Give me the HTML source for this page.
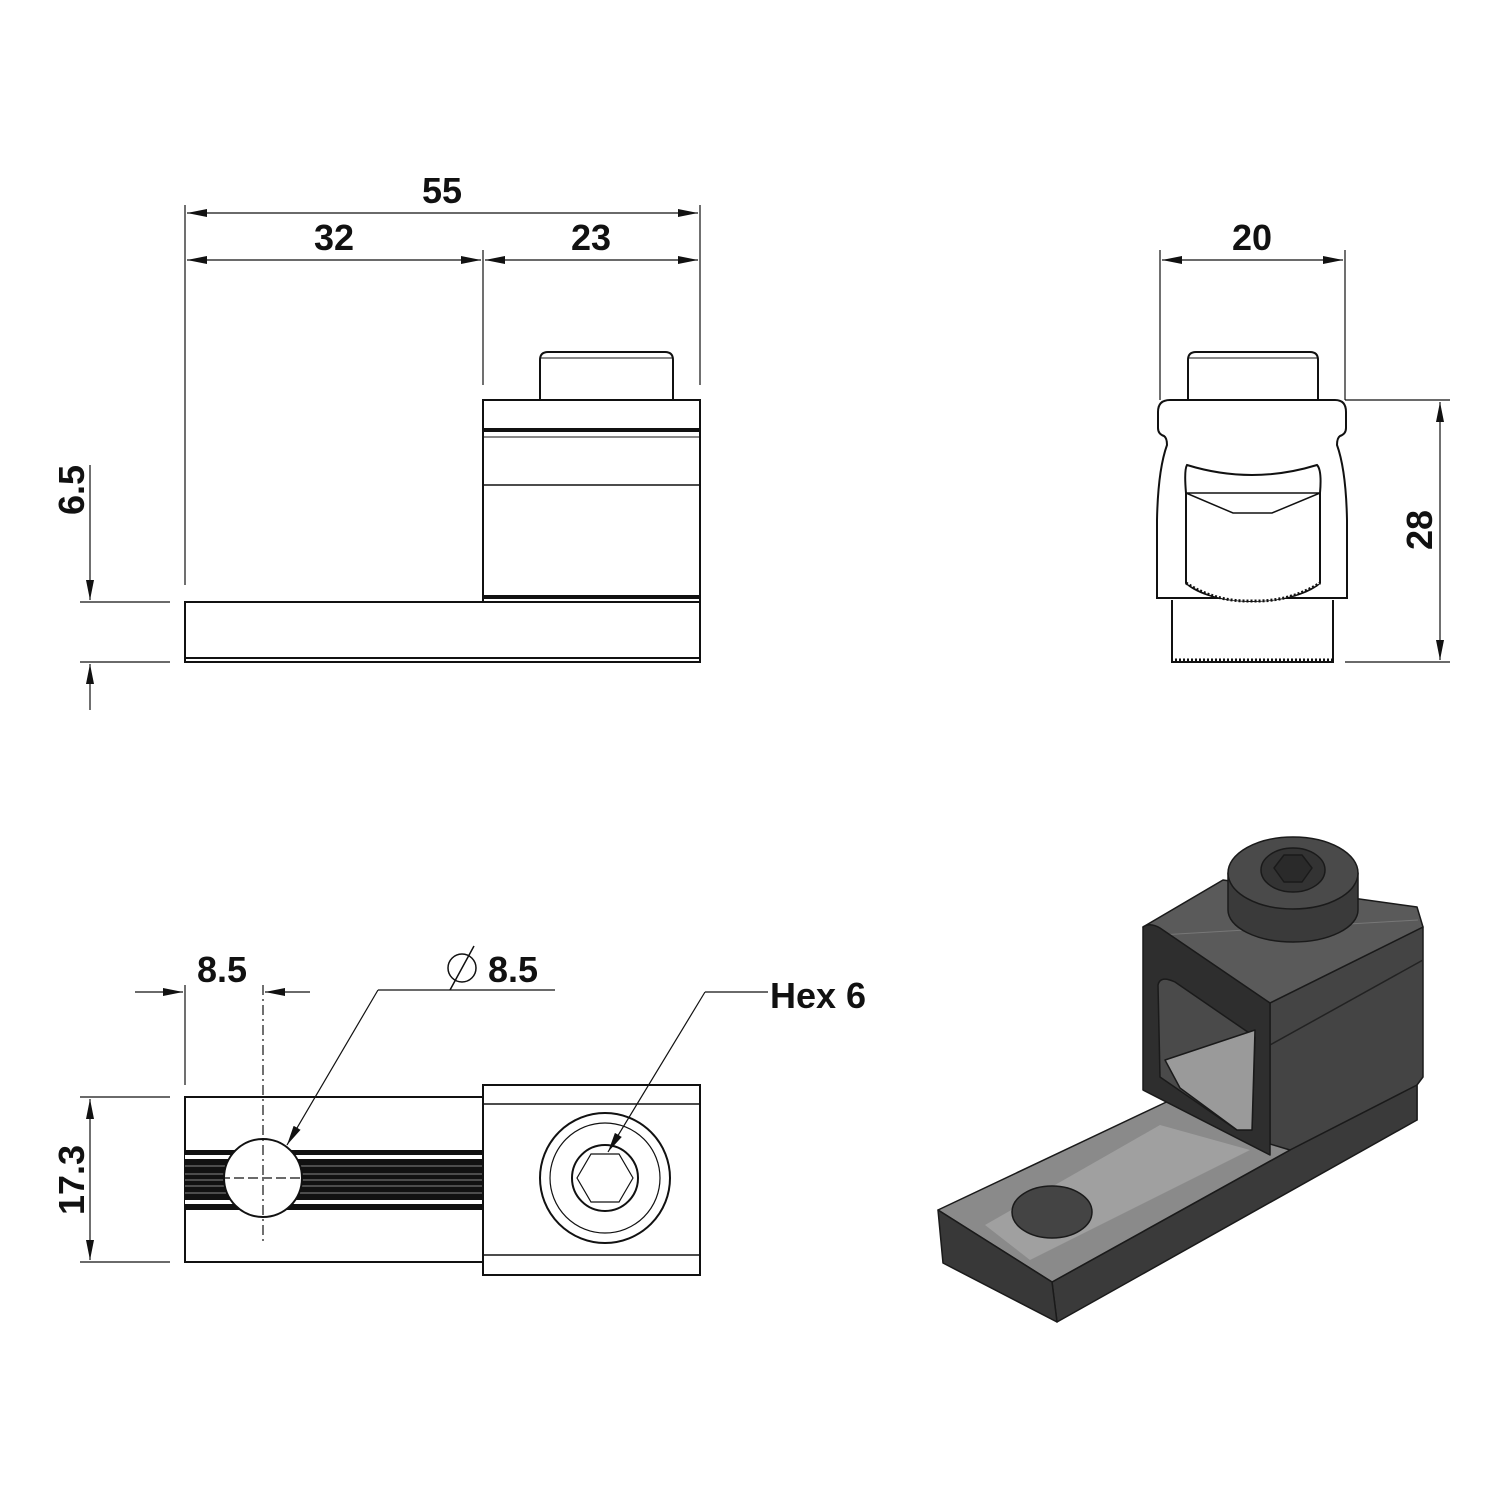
<!DOCTYPE html>
<html><head><style>
html,body{margin:0;padding:0;background:#fff}
svg{display:block}
text{font-family:"Liberation Sans",sans-serif;font-weight:bold;font-size:36px;fill:#111}
</style></head><body>
<svg width="1500" height="1500" viewBox="0 0 1500 1500" xmlns="http://www.w3.org/2000/svg">
<defs>
<marker id="a" viewBox="0 0 20 8" refX="20" refY="4" markerWidth="20" markerHeight="8" orient="auto-start-reverse" markerUnits="userSpaceOnUse"><path d="M0,0 L20,4 L0,8 z" fill="#111"/></marker>
</defs>
<g stroke="#111" stroke-width="1.2" fill="none">
<line x1="185" y1="205" x2="185" y2="585"/>
<line x1="700" y1="205" x2="700" y2="385"/>
<line x1="483" y1="250" x2="483" y2="385"/>
<line x1="187" y1="213" x2="698" y2="213" marker-start="url(#a)" marker-end="url(#a)"/>
<line x1="187" y1="260" x2="481" y2="260" marker-start="url(#a)" marker-end="url(#a)"/>
<line x1="485" y1="260" x2="698" y2="260" marker-start="url(#a)" marker-end="url(#a)"/>
<line x1="80" y1="602" x2="170" y2="602"/>
<line x1="80" y1="662" x2="170" y2="662"/>
<line x1="90" y1="465" x2="90" y2="600" marker-end="url(#a)"/>
<line x1="90" y1="710" x2="90" y2="664" marker-end="url(#a)"/>
</g>
<text x="442" y="203" text-anchor="middle">55</text>
<text x="334" y="250" text-anchor="middle">32</text>
<text x="591" y="250" text-anchor="middle">23</text>
<text transform="translate(84,490) rotate(-90)" text-anchor="middle">6.5</text>
<g stroke="#111" stroke-width="2" fill="#fff">
<rect x="185" y="602" width="515" height="60"/>
<line x1="185" y1="658" x2="700" y2="658"/>
<path d="M540,400 V360 Q540,352 548,352 H665 Q673,352 673,360 V400"/>
<line x1="540" y1="358" x2="673" y2="358" stroke-width="1"/>
<rect x="483" y="400" width="217" height="202"/>
<line x1="483" y1="430" x2="700" y2="430" stroke-width="4"/>
<line x1="483" y1="437" x2="700" y2="437" stroke-width="1"/>
<line x1="483" y1="485" x2="700" y2="485" stroke-width="1.5"/>
<line x1="483" y1="597" x2="700" y2="597" stroke-width="4"/>
</g>
<!-- top-right -->
<g stroke="#111" stroke-width="1.2" fill="none">
<line x1="1160" y1="250" x2="1160" y2="400"/>
<line x1="1345" y1="250" x2="1345" y2="400"/>
<line x1="1162" y1="260" x2="1343" y2="260" marker-start="url(#a)" marker-end="url(#a)"/>
<line x1="1345" y1="400" x2="1450" y2="400"/>
<line x1="1345" y1="662" x2="1450" y2="662"/>
<line x1="1440" y1="402" x2="1440" y2="660" marker-start="url(#a)" marker-end="url(#a)"/>
</g>
<text x="1252" y="250" text-anchor="middle">20</text>
<text transform="translate(1432,530) rotate(-90)" text-anchor="middle">28</text>
<g stroke="#111" stroke-width="2" fill="#fff">
<path d="M1188,400 V360 Q1188,352 1196,352 H1310 Q1318,352 1318,360 V400"/>
<line x1="1188" y1="358" x2="1318" y2="358" stroke-width="1"/>
<path d="M1172,600 V662 H1333 V600"/>
<path d="M1170,400 H1335 Q1346,400 1346,412 V428 Q1346,434 1340,436 Q1337,438 1337,445 Q1346,470 1347,520 V598 H1157 V520 Q1158,470 1167,445 Q1167,438 1164,436 Q1158,434 1158,428 V412 Q1158,400 1170,400 Z"/>
<path d="M1187,465 Q1252,485 1317,465 Q1322,470 1320,493 V583 Q1300,600 1252,601 Q1205,600 1186,583 V493 Q1184,470 1187,465 Z"/>
<path d="M1186,493 H1320 L1272,513 H1233 Z" stroke-width="1.5"/>
<path d="M1186,583 Q1215,602 1252,601 Q1290,602 1320,583" stroke-width="3" stroke-dasharray="2 2"/>
<path d="M1175,660 H1333" stroke-width="3" stroke-dasharray="2 2"/>
</g>
<!-- bottom-left -->
<g stroke="#111" stroke-width="2" fill="#fff">
<rect x="185" y="1097" width="298" height="165"/>
<rect x="185" y="1150" width="298" height="60" fill="#111" stroke="none"/>
<rect x="185" y="1155" width="298" height="4" fill="#fff" stroke="none"/>
<rect x="185" y="1200" width="298" height="4" fill="#fff" stroke="none"/>
<g stroke="#888" stroke-width="1">
<line x1="185" y1="1166" x2="483" y2="1166"/>
<line x1="185" y1="1174" x2="483" y2="1174"/>
<line x1="185" y1="1180" x2="483" y2="1180"/>
<line x1="185" y1="1186" x2="483" y2="1186"/>
<line x1="185" y1="1193" x2="483" y2="1193"/>
</g>
<circle cx="263" cy="1178" r="39"/>
<rect x="483" y="1085" width="217" height="190"/>
<line x1="483" y1="1104" x2="700" y2="1104" stroke-width="1.5"/>
<line x1="483" y1="1255" x2="700" y2="1255" stroke-width="1.5"/>
<circle cx="605" cy="1178" r="65"/>
<circle cx="605" cy="1178" r="55" stroke-width="1.2"/>
<circle cx="605" cy="1178" r="33"/>
<polygon points="633,1178 619,1202 591,1202 577,1178 591,1154 619,1154" stroke-width="1.2"/>
</g>
<g stroke="#111" stroke-width="1.2" fill="none">
<line x1="185" y1="985" x2="185" y2="1085"/>
<line x1="263" y1="985" x2="263" y2="1245" stroke-dasharray="10 4 2 4"/>
<line x1="220" y1="1178" x2="310" y2="1178" stroke-dasharray="10 4"/>
<line x1="135" y1="992" x2="183" y2="992" marker-end="url(#a)"/>
<line x1="310" y1="992" x2="265" y2="992" marker-end="url(#a)"/>
<line x1="378" y1="990" x2="555" y2="990"/>
<line x1="378" y1="990" x2="287" y2="1145" marker-end="url(#a)"/>
<line x1="705" y1="992" x2="768" y2="992"/>
<line x1="705" y1="992" x2="608" y2="1152" marker-end="url(#a)"/>
<line x1="80" y1="1097" x2="170" y2="1097"/>
<line x1="80" y1="1262" x2="170" y2="1262"/>
<line x1="90" y1="1099" x2="90" y2="1260" marker-start="url(#a)" marker-end="url(#a)"/>
</g>
<text x="222" y="982" text-anchor="middle">8.5</text>
<text x="488" y="982">8.5</text>
<circle cx="462" cy="968" r="14" stroke="#111" stroke-width="1.5" fill="none"/>
<line x1="450" y1="990" x2="474" y2="946" stroke="#111" stroke-width="1.5"/>
<text x="770" y="1008">Hex 6</text>
<text transform="translate(84,1180) rotate(-90)" text-anchor="middle">17.3</text>
<!-- 3D view -->
<g stroke="#1a1a1a" stroke-width="1.5" stroke-linejoin="round">
<!-- block right side -->
<polygon points="1270,1003 1423,927 1423,1077 1417,1085 1417,1120 1270,1155" fill="#444"/>
<!-- base slab -->
<polygon points="1052,1282 1290,1150 1417,1085 1417,1120 1057,1322" fill="#3a3a3a"/>
<polygon points="938,1210 1177,1097 1240,1135 1290,1150 1052,1282" fill="#8a8a8a"/>
<polygon points="938,1210 1052,1282 1057,1322 943,1263" fill="#383838"/>
<path d="M985,1225 L1160,1125 L1250,1150 L1030,1260 Z" fill="#a0a0a0" stroke="none"/>
<ellipse cx="1052" cy="1212" rx="40" ry="26" fill="#444"/>
<!-- block top -->
<polygon points="1143,927 1223,880 1417,907 1423,927 1270,1003" fill="#5a5a5a"/>
<line x1="1160" y1="935" x2="1418" y2="920" stroke="#777" stroke-width="1"/>
<line x1="1270" y1="1045" x2="1423" y2="960" stroke="#222"/>
<!-- front face -->
<path d="M1143,927 Q1150,922 1160,928 L1270,1003 L1270,1155 L1143,1090 Z" fill="#2e2e2e"/>
<path d="M1158,985 Q1160,975 1175,982 L1255,1037 L1252,1130 L1237,1130 L1160,1077 Z" fill="#4a4a4a"/>
<polygon points="1165,1060 1255,1030 1252,1130 1237,1130 1180,1088" fill="#9a9a9a"/>
<!-- screw -->
<path d="M1228,873 V910 A65,32 0 0 0 1358,910 V873 Z" fill="#3a3a3a"/>
<ellipse cx="1293" cy="873" rx="65" ry="36" fill="#4a4a4a"/>
<ellipse cx="1293" cy="870" rx="32" ry="22" fill="#333"/>
<polygon points="1312,868 1302,882 1284,882 1274,868 1284,855 1302,855" fill="#2a2a2a"/>
</g>
</svg>
</body></html>
